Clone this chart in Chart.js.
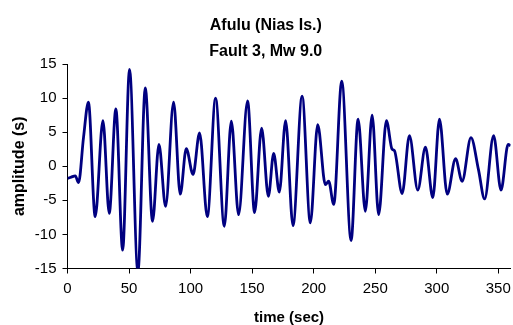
<!DOCTYPE html>
<html>
<head>
<meta charset="utf-8">
<script src="https://cdn.jsdelivr.net/npm/chart.js@4.4.1/dist/chart.umd.min.js"></script>
<style>
  html, body { margin: 0; padding: 0; background: #fff; }
  canvas { display: block; }
</style>
</head>
<body>
<canvas id="waveChart" width="513" height="325"></canvas>
<script>
(function () {
    'use strict';

    // Waveform: time (sec) and amplitude (s)
    const timeSec = [
        0, 3, 6.3, 9, 13, 17, 22.5, 28.8, 33.9, 39.3, 44.8, 50.4, 57.2, 63.2, 69.1,
        74.3, 79.7, 86.2, 91.6, 96.5, 102, 107.3, 113.6, 120.3, 127.4, 133.1, 139,
        146.3, 152, 157.7, 163.2, 167.5, 172.1, 177.2, 183.2, 190.6, 197.3, 203.3,
        209.5, 212.2, 216.3, 222.8, 230.4, 236.1, 242, 247.5, 252.8, 259.1, 263.7,
        265.6, 271.9, 277.8, 284.6, 290.8, 296.8, 302.2, 308.5, 315.3, 320.6, 327.8,
        333.9, 338.9, 346.2, 352.2, 358, 360
    ];
    const amplitude = [
        -1.8, -1.6, -1.4, -2.4, 4.2, 9.4, -7.4, 6.7, -6.9, 8.4, -12.3, 14.2, -15.5, 11.5, -8.1,
        3.2, -5.9, 9.4, -4.1, 2.6, -1.2, 4.9, -7.4, 10.0, -8.8, 6.6, -7.1,
        9.6, -6.8, 5.6, -4.4, 1.9, -3.8, 6.7, -8.7, 10.3, -8.3, 6.1,
        -2.7, -2.2, -5.6, 12.5, -10.9, 6.9, -6.6, 7.5, -7.1, 6.7, 2.5,
        2.3, -4.0, 4.5, -3.5, 2.8, -4.6, 6.9, -4.1, 1.1, -2.2, 4.2,
        -0.5, -4.8, 4.5, -3.5, 3.2, 3.0
    ];
    const titleLines = ['Afulu (Nias Is.)', 'Fault 3, Mw 9.0'];
    const xTicks = [0, 50, 100, 150, 200, 250, 300, 350];

    const FONT = '"Liberation Sans", Arial, sans-serif';
    const points = timeSec.map((t, i) => ({ x: t, y: amplitude[i] }));

    const ctx = document.getElementById('waveChart').getContext('2d');

    new Chart(ctx, {
        type: 'line',
        data: {
            datasets: [{
                data: points,
                borderColor: '#000080',
                borderWidth: 2.8,
                pointRadius: 0,
                fill: false,
                cubicInterpolationMode: 'monotone'
            }]
        },
        options: {
            responsive: false,
            animation: false,
            events: [],
            layout: { padding: { left: 21, right: 2.4, top: 0, bottom: 0 } },
            plugins: {
                legend: { display: false },
                tooltip: { enabled: false },
                title: {
                    display: true,
                    text: titleLines,
                    color: '#000',
                    font: { family: FONT, size: 16, weight: 'bold', lineHeight: 1.625 },
                    padding: { top: 13, bottom: -1 }
                }
            },
            scales: {
                x: {
                    type: 'linear',
                    min: 0,
                    max: 360,
                    afterBuildTicks: (scale) => {
                        scale.ticks = xTicks.map(v => ({ value: v }));
                    },
                    afterFit: (scale) => {
                        // keep the plot edge where the reference has it
                        scale.height = 56.5;
                        scale.paddingLeft = 0;
                        scale.paddingRight = 0;
                    },
                    grid: {
                        drawOnChartArea: false,
                        drawTicks: true,
                        tickLength: 5,
                        color: '#000'
                    },
                    border: { display: true, color: '#000', width: 1 },
                    ticks: {
                        color: '#000',
                        font: { family: FONT, size: 15 },
                        padding: 6,
                        maxRotation: 0
                    },
                    title: {
                        display: true,
                        text: 'time (sec)',
                        color: '#000',
                        font: { family: FONT, size: 15, weight: 'bold' },
                        padding: { top: 0, bottom: -1.5 }
                    }
                },
                y: {
                    min: -15,
                    max: 15,
                    ticks: {
                        stepSize: 5,
                        color: '#000',
                        font: { family: FONT, size: 15 },
                        padding: 6
                    },
                    afterFit: (scale) => { scale.width = 46.5; },
                    grid: {
                        drawOnChartArea: false,
                        drawTicks: true,
                        tickLength: 5,
                        color: '#000'
                    },
                    border: { display: true, color: '#000', width: 1 },
                    title: {
                        display: true,
                        text: 'amplitude (s)',
                        color: '#000',
                        font: { family: FONT, size: 16, weight: 'bold' },
                        padding: { top: -11, bottom: 0 }
                    }
                }
            }
        }
    });
})();
</script>
</body>
</html>
